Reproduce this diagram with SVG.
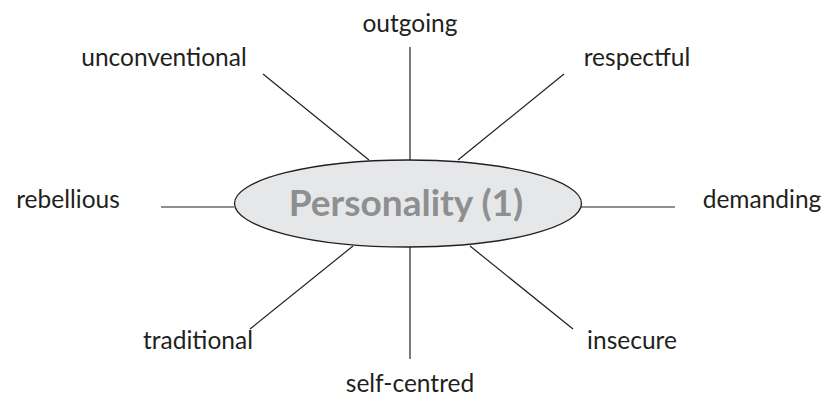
<svg xmlns="http://www.w3.org/2000/svg" width="832" height="411" viewBox="0 0 832 411">
<style>
.lbl{font-family:Lato,"Open Sans","Liberation Sans",sans-serif;font-size:24.5px;fill:#231f20}
.ln{stroke:#231f20;stroke-width:1.2;fill:none}
.ttl{font-family:Lato,"Open Sans","Liberation Sans",sans-serif;font-size:37px;font-weight:bold;fill:#8e8f91}
</style>
<rect width="832" height="411" fill="#fff"/>
<g id="connectors">
<line class="ln" x1="410" y1="47" x2="410" y2="160"/>
<line class="ln" x1="263" y1="74" x2="369" y2="160"/>
<line class="ln" x1="564" y1="74" x2="458" y2="160"/>
<line class="ln" x1="161" y1="207" x2="234" y2="207"/>
<line class="ln" x1="581" y1="207" x2="675" y2="207"/>
<line class="ln" x1="250" y1="329" x2="353" y2="246"/>
<line class="ln" x1="410" y1="247" x2="410" y2="359"/>
<line class="ln" x1="573" y1="329" x2="470" y2="246"/>
</g>
<g id="center">
<ellipse cx="408" cy="203.5" rx="173.5" ry="43.5" fill="#e6e7e8" stroke="#231f20" stroke-width="1.3"/>
<text class="ttl" x="406" y="216" text-anchor="middle">Personality (1)</text>
</g>
<g id="outgoing"><text class="lbl" x="410" y="32" text-anchor="middle">outgoing</text></g>
<g id="unconventional"><text class="lbl" x="164" y="66" text-anchor="middle">unconventional</text></g>
<g id="respectful"><text class="lbl" x="637" y="66" text-anchor="middle">respectful</text></g>
<g id="rebellious"><text class="lbl" x="68" y="208" text-anchor="middle">rebellious</text></g>
<g id="demanding"><text class="lbl" x="762" y="208" text-anchor="middle">demanding</text></g>
<g id="traditional"><text class="lbl" x="198" y="349" text-anchor="middle">traditional</text></g>
<g id="insecure"><text class="lbl" x="632" y="349" text-anchor="middle">insecure</text></g>
<g id="self-centred"><text class="lbl" x="410" y="392" text-anchor="middle">self-centred</text></g>
</svg>
